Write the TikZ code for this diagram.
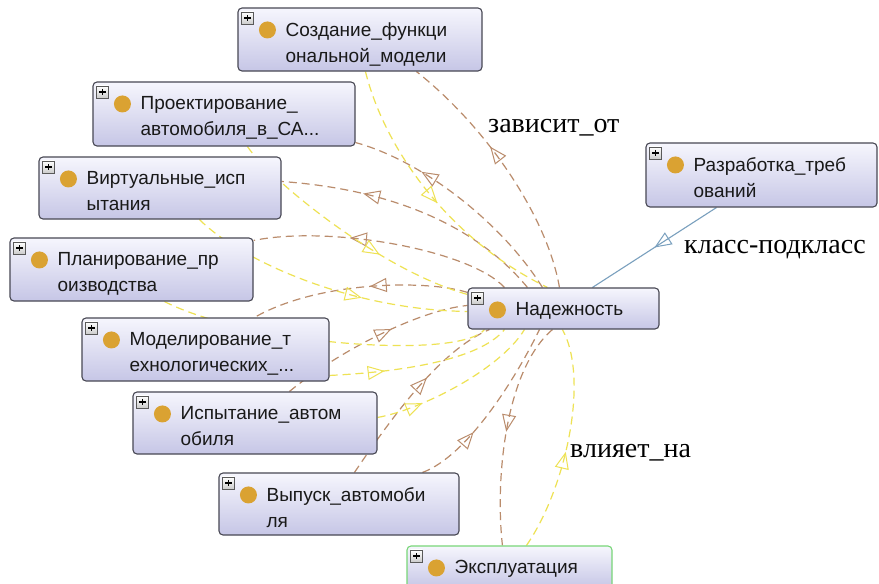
\documentclass[tikz,border=0pt]{standalone}
\usepackage{fontspec}
\setmainfont{Liberation Sans}
\newfontfamily\serifru{Liberation Serif}
\usetikzlibrary{calc,arrows.meta,decorations.markings}
\pgfdeclarelayer{bg}
\pgfsetlayers{bg,main}

\definecolor{boxtop}{RGB}{246,246,253}
\definecolor{boxbot}{RGB}{198,198,230}
\definecolor{boxline}{RGB}{72,72,84}
\definecolor{greenline}{RGB}{120,214,120}
\definecolor{dotc}{RGB}{218,162,50}
\definecolor{brownc}{RGB}{186,140,108}
\definecolor{yellowc}{RGB}{238,226,84}
\definecolor{bluec}{RGB}{122,160,190}

\tikzset{
 obox/.style={draw=boxline, line width=1.1pt, rounded corners=4pt, top color=boxtop, bottom color=boxbot, inner sep=0pt},
 otext/.style={font=\fontsize{19}{26}\selectfont, align=left, inner sep=0pt, anchor=north west, text=black!90},
 plusic/.style={draw=gray!70!black, line width=0.6pt, top color=white, bottom color=gray!40, minimum size=12pt, inner sep=0pt},
 brownedge/.style={draw=brownc, line width=1.2pt, dash pattern=on 8pt off 5pt},
 yellowedge/.style={draw=yellowc, line width=1.2pt, dash pattern=on 8pt off 5pt},
 blueedge/.style={draw=bluec, line width=1.1pt},
 midtip/.style={postaction={decorate}, decoration={markings, mark=at position #1 with {\arrow[line width=1pt]{Triangle[open,length=17pt,width=14pt]}}}},
 rellabel/.style={font=\serifru\fontsize{28}{30}\selectfont, anchor=base west, inner sep=0pt},
}

\newcommand\ontobox[7][]{%
 \node[obox,minimum width={#5-#3},minimum height={#6-#4},#1] (#2) at ({(#3+#5)/2},{(#4+#6)/2}) {};
 \node[plusic] (#2-plus) at ($(#2.north west)+(10,10.5)$) {};
 \draw[line width=1.3pt] ($(#2-plus.center)+(-3.2,0)$) -- ($(#2-plus.center)+(3.2,0)$)
   ($(#2-plus.center)+(0,-3.2)$) -- ($(#2-plus.center)+(0,3.2)$);
 \fill[dotc] ($(#2.north west)+(30,22.5)$) circle (8.5pt);
 \node[otext] (#2-text) at ($(#2.north west)+(48,15)$) {#7};
}

\begin{document}
\begin{tikzpicture}[x=1pt,y=-1pt]
\useasboundingbox (0,0) rectangle (879,584);
\clip (0,0) rectangle (879,584);

\ontobox{sozd}{238}{8}{482}{71}{Создание\_функци\\ональной\_модели}
\ontobox{proj}{93}{82}{355}{146}{Проектирование\_\\автомобиля\_в\_СА...}
\ontobox{virt}{39}{157}{281}{219}{Виртуальные\_исп\\ытания}
\ontobox{plan}{10}{238}{253}{301}{Планирование\_пр\\оизводства}
\ontobox{model}{82}{318}{329}{381}{Моделирование\_т\\ехнологических\_...}
\ontobox{isp}{133}{392}{377}{454}{Испытание\_автом\\обиля}
\ontobox{vyp}{219}{473}{459}{535}{Выпуск\_автомоби\\ля}
\ontobox[draw=greenline]{expl}{407}{546}{612}{588}{Эксплуатация}
\ontobox{nad}{468}{288}{659}{329}{Надежность}
\ontobox{razr}{646}{143}{877}{207}{Разработка\_треб\\ований}

\begin{pgfonlayer}{bg}
\fill[white] (0,0) rectangle (879,584);
% brown edges
\draw[brownedge,midtip=0.6] ($(nad.north west)+(92,0)$) .. controls (548,220) and (490,130) .. ($(sozd.south west)+(179,0)$);
\draw[brownedge,midtip=0.7] ($(nad.north west)+(75,0)$) .. controls (500,220) and (420,160) .. ($(proj.south east)+(0,-4)$);
\draw[brownedge,midtip=0.7] ($(nad.north west)+(60,0)$) .. controls (480,230) and (400,190) .. ($(virt.north east)+(0,25)$);
\draw[brownedge,midtip=0.63] ($(nad.north west)+(37,0)$) .. controls (470,250) and (330,225) .. ($(plan.north east)+(0,3)$);
\draw[brownedge,midtip=0.45] ($(nad.north west)+(0,5)$) .. controls (430,280) and (320,280) .. ($(model.north west)+(173,0)$);
\draw[brownedge,midtip=0.6] ($(isp.north west)+(157,0)$) .. controls (340,350) and (420,310) .. ($(nad.north west)+(0,18)$);
\draw[brownedge,midtip=0.6] ($(vyp.north west)+(136,0)$) .. controls (390,420) and (440,350) .. ($(nad.south west)+(22,0)$);
\draw[brownedge,midtip=0.35] ($(vyp.north west)+(204,0)$) .. controls (470,455) and (520,370) .. ($(nad.south west)+(72,0)$);
\draw[brownedge,midtip=0.5] ($(nad.south west)+(85,0)$) .. controls (505,370) and (495,480) .. ($(expl.north west)+(96,0)$);
% yellow edges
\draw[yellowedge,midtip=0.52] ($(sozd.south west)+(128,0)$) .. controls (385,150) and (450,240) .. ($(nad.north west)+(80,0)$);
\draw[yellowedge,midtip=0.64] ($(proj.south west)+(155,0)$) .. controls (270,180) and (380,270) .. ($(nad.north west)+(0,7)$);
\draw[yellowedge,midtip=0.63] ($(virt.south west)+(161,0)$) .. controls (240,260) and (350,310) .. ($(nad.north west)+(0,24)$);
\draw[yellowedge,midtip=0.47] ($(plan.south west)+(155,0)$) .. controls (250,345) and (460,360) .. ($(nad.south west)+(17,0)$);
\draw[yellowedge,midtip=0.3] ($(model.north east)+(0,58)$) .. controls (400,372) and (480,360) .. ($(nad.south west)+(37,0)$);
\draw[yellowedge,midtip=0.27] ($(isp.north east)+(0,26)$) .. controls (420,410) and (500,370) .. ($(nad.south west)+(57,0)$);
\draw[yellowedge,midtip=0.45] ($(expl.north west)+(120,0)$) .. controls (565,490) and (590,380) .. ($(nad.south west)+(95,0)$);
% subclass edge
\draw[blueedge,midtip=0.5] ($(razr.south west)+(71,0)$) -- ($(nad.north west)+(125,0)$);
\end{pgfonlayer}

\node[rellabel] (zav) at (488,132) {зависит\_от};
\node[rellabel] (klass) at (684,253) {класс-подкласс};
\node[rellabel] (vliy) at (570,457) {влияет\_на};
\end{tikzpicture}
\end{document}
